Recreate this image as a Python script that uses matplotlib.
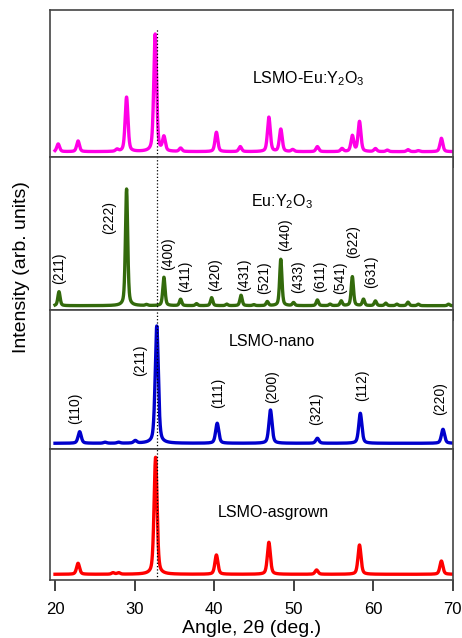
import numpy as np
import matplotlib
matplotlib.use('Agg')
import matplotlib.pyplot as plt

plt.rcParams['font.family'] = ['Liberation Sans', 'DejaVu Sans']
plt.rcParams['mathtext.fontset'] = 'custom'
plt.rcParams['mathtext.rm'] = 'Liberation Sans'

# peak tables: position (2theta, deg), height (arb. units)
comp_pos = [20.4, 22.9, 27.8, 29.0, 32.6, 33.7, 35.8, 40.3, 43.3, 46.9, 48.4, 49.9,
            53.0, 56.1, 57.4, 58.3, 60.3, 61.8, 64.4, 65.7, 68.6]
comp_h = [7.7, 10.7, 2.0, 54.4, 117.4, 14.0, 3.4, 19.4, 5.0, 34.4, 22.4, 2.0,
          5.0, 3.0, 15.7, 30.0, 3.0, 1.5, 2.0, 1.0, 13.4]

euy_pos = [20.5, 29.0, 31.5, 33.7, 35.8, 37.8, 39.7, 41.6, 43.4, 45.0, 46.7, 48.4,
           50.0, 53.0, 54.6, 56.0, 57.4, 58.8, 60.3, 61.6, 63.0, 64.4, 65.7, 69.5]
euy_h = [14.0, 116.7, 1.0, 28.4, 6.4, 2.0, 8.0, 1.5, 10.4, 1.0, 4.0, 46.4,
         3.0, 5.7, 1.5, 4.7, 29.0, 6.4, 4.7, 2.5, 1.5, 3.5, 1.5, 1.5]

nano_pos = [23.1, 26.3, 28.0, 30.1, 32.8, 40.4, 47.1, 53.0, 58.4, 68.8]
nano_h = [11.6, 1.0, 1.0, 2.5, 117.3, 20.0, 33.3, 5.0, 30.0, 14.0]

grown_pos = [22.9, 27.3, 28.0, 32.65, 40.3, 46.9, 52.9, 58.3, 68.6]
grown_h = [11.0, 1.5, 1.5, 117.0, 19.3, 32.0, 4.3, 29.3, 13.3]

euy_hkl = ['(211)', '(222)', '(400)', '(411)', '(420)', '(431)', '(521)',
           '(440)', '(433)', '(611)', '(541)', '(622)', '(631)']
euy_hkl_x = [20.5, 26.8, 34.2, 36.4, 40.1, 43.8, 46.3, 48.9, 50.6, 53.3, 55.8, 57.5, 59.7]
euy_hkl_y = [37.7, 88.7, 51.7, 29.0, 30.7, 30.7, 27.7, 70.7, 29.0, 29.0, 27.7, 64.0, 34.0]

nano_hkl = ['(110)', '(211)', '(111)', '(200)', '(321)', '(112)', '(220)']
nano_hkl_x = [22.5, 30.7, 40.5, 47.3, 52.8, 58.6, 68.5]
nano_hkl_y = [35.0, 83.3, 50.0, 56.6, 35.0, 57.6, 45.0]

tt = np.linspace(20, 70, 3001)


def pattern(pos, h, fwhm, eta=0.45):
    y = np.zeros_like(tt)
    for p, a in zip(pos, h):
        d = (tt - p) / (fwhm / 2)
        y += a * (eta / (1 + d**2) + (1 - eta) * np.exp(-np.log(2) * d**2))
    return y


fig = plt.figure(figsize=(4.62, 6.38), dpi=100)
L, W = 50 / 462, 403 / 462
# (top px, bottom px, baseline offset px)
rows = [(10, 157, 5.3), (157, 310, 4.3), (310, 449, 5.7), (449, 580, 5.7)]
series = [(comp_pos, comp_h, 0.42, '#ff00e6', 'LSMO-Eu:Y$_\\mathregular{2}$O$_\\mathregular{3}$', 51.9, 73.4),
          (euy_pos, euy_h, 0.34, '#336a0c', 'Eu:Y$_\\mathregular{2}$O$_\\mathregular{3}$', 48.5, 104),
          (nano_pos, nano_h, 0.47, '#0000cc', 'LSMO-nano', 47.3, 101.6),
          (grown_pos, grown_h, 0.45, '#ff0000', 'LSMO-asgrown', 47.5, 62)]

axes = []
for (top, bot, b), (pos, h, fw, col, name, tx, ty) in zip(rows, series):
    ax = fig.add_axes([L, 1 - bot / 638, W, (bot - top) / 638])
    ax.plot(tt, pattern(pos, h, fw), color=col, lw=2.4)
    ax.set_xlim(19.37, 70.06)
    ax.set_ylim(-b, (bot - top) - b)
    ax.set_yticks([])
    ax.set_xticks([20, 30, 40, 50, 60, 70])
    ax.tick_params(axis='x', direction='out', length=8, width=1.3, color='#333333',
                   labelsize=12, pad=8)
    for s in ax.spines.values():
        s.set_color('#444444')
        s.set_linewidth(1.2)
    ax.text(tx, ty, name, ha='center', va='center', fontsize=11.5)
    axes.append(ax)

for ax in axes[:-1]:
    ax.tick_params(labelbottom=False)

axes[0].axvline(32.8, ymax=0.87, color='k', ls=':', lw=0.9)
for ax in axes[1:]:
    ax.axvline(32.8, color='k', ls=':', lw=0.9)

for lab, x, y in zip(euy_hkl, euy_hkl_x, euy_hkl_y):
    axes[1].text(x, y, lab, rotation=90, ha='center', va='center', fontsize=10)
for lab, x, y in zip(nano_hkl, nano_hkl_x, nano_hkl_y):
    axes[2].text(x, y, lab, rotation=90, ha='center', va='center', fontsize=10)

axes[-1].set_xlabel('Angle, 2θ (deg.)', fontsize=14, labelpad=2)
fig.text(22 / 462, 1 - 267 / 638, 'Intensity (arb. units)', rotation=90,
         ha='center', va='center', fontsize=14)

fig.savefig('out.png', dpi=100)
